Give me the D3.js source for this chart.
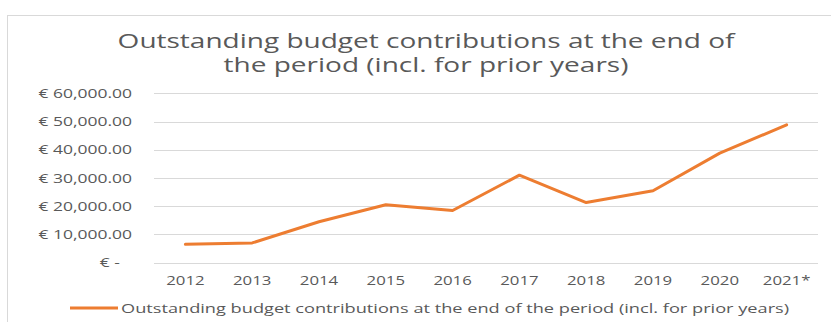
<!DOCTYPE html>
<html>
<head>
<meta charset="utf-8">
<script src="https://cdn.jsdelivr.net/npm/d3@7"></script>
<style>
  body { margin: 0; background: #fff; }
  text { font-family: "Open Sans", "Liberation Sans", sans-serif; fill: #595959; }
</style>
</head>
<body>
<div id="chart"></div>
<script>
// values
const years = ["2012", "2013", "2014", "2015", "2016", "2017", "2018", "2019", "2020", "2021*"]
const outstanding = [6500, 7000, 14500, 20500, 18500, 31000, 21300, 25500, 38800, 48800]
const yTicks = [0, 10000, 20000, 30000, 40000, 50000, 60000]
const titleLines = ["Outstanding budget contributions at the end of", "the period (incl. for prior years)"]
const seriesName = "Outstanding budget contributions at the end of the period (incl. for prior years)"

const W = 831, H = 322
const SX = 1.4 // the picture's text is stretched sideways

const svg = d3.select("#chart").append("svg")
  .attr("width", W)
  .attr("height", H)

// chart frame
svg.append("rect")
  .attr("x", 7.5).attr("y", 15.5)
  .attr("width", W).attr("height", H)
  .attr("fill", "#fff")
  .attr("stroke", "#d9d9d9")

// title
svg.append("g")
  .attr("transform", `translate(426, 0) scale(${SX}, 1)`)
  .selectAll("text")
  .data(titleLines)
  .join("text")
    .attr("x", 0)
    .attr("y", (d, i) => 48 + i * 24)
    .attr("text-anchor", "middle")
    .attr("font-size", "20px")
    .text(d => d)

const x = d3.scaleBand()
  .domain(years)
  .range([152, 820])

const y = d3.scaleLinear()
  .domain([0, 60000])
  .range([262.7, 93.3])

// gridlines
svg.append("g")
  .selectAll("line")
  .data(yTicks)
  .join("line")
    .attr("x1", 154).attr("x2", 818)
    .attr("y1", d => Math.round(y(d)) + 0.5)
    .attr("y2", d => Math.round(y(d)) + 0.5)
    .attr("stroke", "#d9d9d9")
    .attr("stroke-width", 1)

const fmt = d3.format(",.2f")
const yAxis = d3.axisLeft(y)
  .tickValues(yTicks)
  .tickSize(0)
  .tickFormat(d => d === 0 ? "€ -" : "€ " + fmt(d))
svg.append("g")
  .attr("transform", "translate(154, 0)")
  .call(yAxis)
  .call(g => g.select(".domain").remove())
  .selectAll("text")
    .attr("x", 0)
    .attr("transform", d => `translate(${d === 0 ? -34 : -22}, 0) scale(${SX}, 1)`)
    .attr("font-size", "12.5px")
    .attr("fill", "#5f5f5f")

const xAxis = d3.axisBottom(x).tickSize(0).tickPadding(13.5)
svg.append("g")
  .attr("transform", "translate(0, 263)")
  .call(xAxis)
  .call(g => g.select(".domain").remove())
  .selectAll("text")
    .attr("transform", `scale(${SX}, 1)`)
    .attr("font-size", "12px")
    .attr("fill", "#5f5f5f")

const line = d3.line()
  .x((d, i) => x(years[i]) + x.bandwidth() / 2)
  .y(d => y(d))

svg.append("path")
  .datum(outstanding)
  .attr("d", line)
  .attr("fill", "none")
  .attr("stroke", "#ED7D31")
  .attr("stroke-width", 3)
  .attr("stroke-linejoin", "round")
  .attr("stroke-linecap", "round")

// legend
const legend = svg.append("g").attr("transform", "translate(70, 308)")
legend.append("line")
  .attr("x1", 0).attr("x2", 48)
  .attr("stroke", "#ED7D31")
  .attr("stroke-width", 3)
legend.append("text")
  .attr("transform", `translate(51, 5) scale(${SX}, 1)`)
  .attr("font-size", "13px")
  .text(seriesName)
</script>
</body>
</html>
